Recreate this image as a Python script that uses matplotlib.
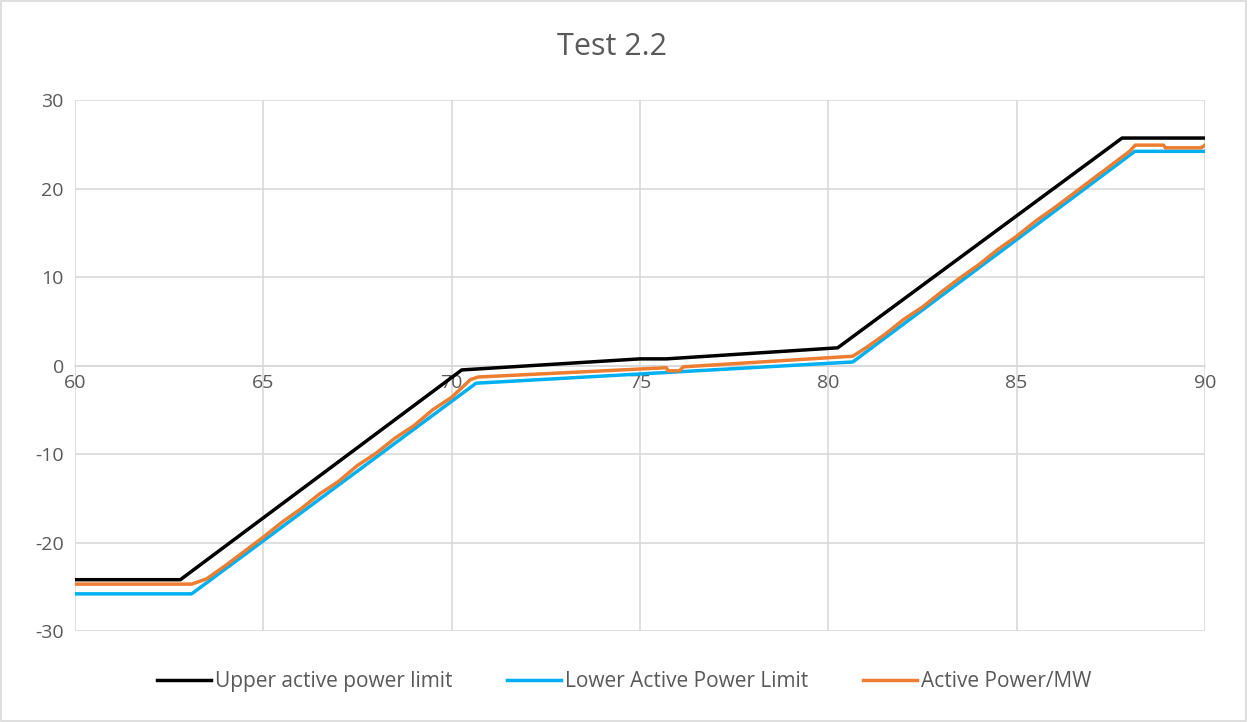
import numpy as np
import matplotlib
matplotlib.use('Agg')
import matplotlib.pyplot as plt
from matplotlib.patches import Rectangle

plt.rcParams['font.family'] = ['Open Sans', 'DejaVu Sans']
plt.rcParams['axes.unicode_minus'] = False

# upper limit corner points
upper_x = [60, 62.8, 70.27, 75.0, 75.7, 80.25, 87.8, 90]
upper_y = [-24.2, -24.2, -0.5, 0.75, 0.75, 2.0, 25.7, 25.7]

# lower limit corner points
lower_x = [60, 63.1, 70.65, 80.65, 88.14, 90]
lower_y = [-25.8, -25.8, -2.0, 0.4, 24.2, 24.2]

active_x = [60, 63.1, 63.5, 64.0, 64.5, 65.0, 65.5, 66.0, 66.5, 67.0, 67.5,
            68.0, 68.5, 69.0, 69.5, 70.0, 70.3, 70.5, 70.7,
            75.7, 75.75, 76.05, 76.15, 80.65,
            81.0, 81.5, 82.0, 82.5, 83.0, 83.5, 84.0, 84.5, 85.0, 85.5,
            86.0, 86.5, 87.0, 87.5, 88.0, 88.15, 88.9, 88.95, 89.9, 90]
active_y = [-24.7, -24.7, -24.1, -22.6, -21.0, -19.4, -17.7, -16.2, -14.5, -13.1, -11.3,
            -9.9, -8.2, -6.8, -5.0, -3.6, -2.4, -1.6, -1.3,
            -0.25, -0.6, -0.6, -0.15, 1.05,
            2.0, 3.5, 5.2, 6.6, 8.3, 9.9, 11.4, 13.1, 14.6, 16.3,
            17.8, 19.4, 21.0, 22.6, 24.2, 24.9, 24.9, 24.6, 24.6, 24.9]

fig = plt.figure(figsize=(12.48, 7.22), dpi=100)
ax = fig.add_axes([0.060, 0.126, 0.9055, 0.7355])

ax.plot(upper_x, upper_y, color='black', linewidth=2.5, label='Upper active power limit', zorder=3)
ax.plot(lower_x, lower_y, color='#00b0f0', linewidth=2.5, label='Lower Active Power Limit', zorder=3)
ax.plot(active_x, active_y, color='#ed7d31', linewidth=2.5, label='Active Power/MW', zorder=4)

ax.set_xlim(60, 90)
ax.set_ylim(-30, 30)
ax.set_xticks(np.arange(60, 91, 5))
ax.set_yticks(np.arange(-30, 31, 10))

ax.grid(color='#d9d9d9', linewidth=1.2)
ax.set_axisbelow(True)
for s in ['top', 'right', 'left']:
    ax.spines[s].set_visible(False)
ax.spines['bottom'].set_position(('data', 0))
ax.spines['bottom'].set_color('#d9d9d9')
ax.spines['bottom'].set_linewidth(1.2)
ax.tick_params(length=0, labelsize=14, colors='#595959', pad=8)
ax.tick_params(axis='x', pad=6)

fig.text(0.49, 0.935, 'Test 2.2', ha='center', va='center', fontsize=22, color='#595959')

leg = ax.legend(loc='upper center', bbox_to_anchor=(0.486, -0.04), ncol=3, frameon=False,
                fontsize=15, handlelength=2.6, columnspacing=2.6, handletextpad=0.2)
for t in leg.get_texts():
    t.set_color('#595959')

fig.patches.append(Rectangle((0.001, 0.001), 0.997, 0.997, transform=fig.transFigure,
                             fill=False, edgecolor='#d9d9d9', linewidth=1.2))

fig.savefig('out.png', dpi=100, facecolor='white')
